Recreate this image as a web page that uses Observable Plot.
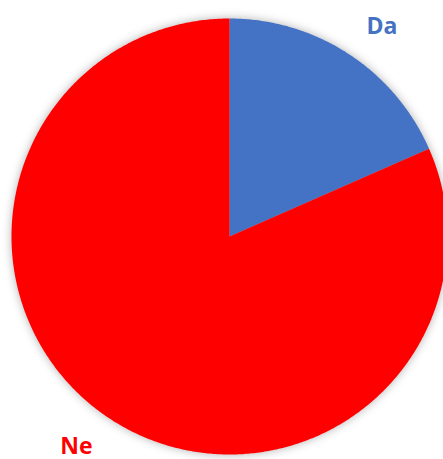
<!DOCTYPE html>
<html>
<head>
<meta charset="utf-8">
<script src="https://cdn.jsdelivr.net/npm/d3@7"></script>
<script src="https://cdn.jsdelivr.net/npm/@observablehq/plot@0.6"></script>
<style>
  html, body { margin: 0; padding: 0; background: #fff; overflow: hidden; }
  #chart svg { display: block; }
</style>
</head>
<body>
<div id="chart"></div>
<script>
// Data
const categories = ["Da", "Ne"];
const values = [18.4, 81.6];
const colors = ["#4472C4", "#FF0000"];

// Pie layout (clockwise from 12 o'clock, Excel-style)
const pie = d3.pie().sort(null).value((d, i) => values[i])(categories);

// Polygon points for each slice, in unit-circle data space
const slicePoints = [];
pie.forEach((s, i) => {
  const name = categories[i];
  slicePoints.push({name, x: 0, y: 0});
  const steps = Math.max(2, Math.ceil((s.endAngle - s.startAngle) / (Math.PI / 360)));
  for (let k = 0; k <= steps; k++) {
    const a = s.startAngle + (s.endAngle - s.startAngle) * k / steps;
    slicePoints.push({name, x: Math.sin(a), y: Math.cos(a)});
  }
  slicePoints.push({name, x: 0, y: 0});
});

// Labels placed outside each slice at its mid angle
const labelR = 1.15;
const labels = pie.map((s, i) => {
  const a = (s.startAngle + s.endAngle) / 2;
  return {name: categories[i], x: labelR * Math.sin(a), y: labelR * Math.cos(a),
          anchor: Math.sin(a) >= 0 ? "start" : "end"};
});

const plot = Plot.plot({
  width: 443,
  height: 459,
  margin: 0,
  x: {domain: [-1, 1], range: [11, 447], axis: null},
  y: {domain: [-1, 1], range: [454, 18], axis: null},
  color: {domain: categories, range: colors},
  style: {background: "transparent", overflow: "visible"},
  marks: [
    Plot.line(slicePoints, {x: "x", y: "y", z: "name", fill: "name", stroke: null, curve: "linear"}),
    Plot.text(labels.filter(d => d.anchor === "start"), {
      x: "x", y: "y", text: "name", fill: "name",
      textAnchor: "start",
      fontSize: 23, fontWeight: "bold",
      fontFamily: "'Open Sans', 'Liberation Sans', sans-serif"
    }),
    Plot.text(labels.filter(d => d.anchor === "end"), {
      x: "x", y: "y", text: "name", fill: "name",
      textAnchor: "end",
      fontSize: 23, fontWeight: "bold",
      fontFamily: "'Open Sans', 'Liberation Sans', sans-serif"
    })
  ]
});

plot.querySelectorAll('g[aria-label="line"]').forEach(g => {
  g.style.filter = "drop-shadow(0px 0px 5px rgba(0,0,0,0.3))";
});

document.getElementById("chart").appendChild(plot);
</script>
</body>
</html>
